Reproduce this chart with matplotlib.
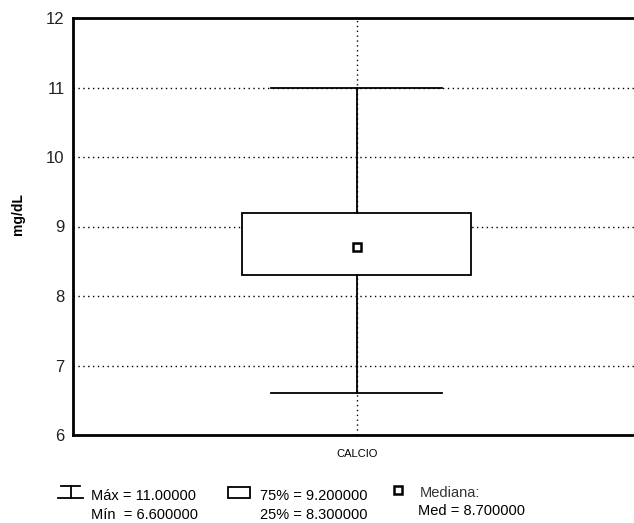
import matplotlib
matplotlib.use("Agg")
import matplotlib.pyplot as plt
from matplotlib.lines import Line2D
from matplotlib.patches import Rectangle

plt.rcParams['font.family'] = ['Liberation Sans', 'DejaVu Sans']

category = "CALCIO"
v_max = 11.0
v_min = 6.6
q75 = 9.2
q25 = 8.3
median = 8.7
y_ticks = [6, 7, 8, 9, 10, 11, 12]

fig = plt.figure(figsize=(6.34, 5.23), dpi=100)
ax = fig.add_axes([73/634, 1 - 435/523, 1 - 73/634, (435 - 18)/523])

stats = [{"label": category, "med": median, "q1": q25, "q3": q75,
          "whislo": v_min, "whishi": v_max, "mean": median}]
ax.bxp(stats, positions=[0], widths=0.408, capwidths=0.305, showmeans=True,
       showfliers=False, patch_artist=True,
       boxprops=dict(facecolor="white", edgecolor="black", linewidth=1.3),
       whiskerprops=dict(color="black", linewidth=1.3),
       capprops=dict(color="black", linewidth=1.3),
       medianprops=dict(visible=False),
       meanprops=dict(marker="s", markerfacecolor="white", markeredgecolor="black",
                      markeredgewidth=1.8, markersize=6),
       zorder=3)

ax.set_xlim(-0.506, 0.494)
ax.set_ylim(6, 12)
ax.set_yticks(y_ticks)
ax.set_yticklabels([str(t) for t in y_ticks], fontsize=12, color="#222222")
ax.set_xticks([0])
ax.set_xticklabels([category], fontsize=8)
ax.tick_params(length=0, pad=6)
ax.tick_params(axis="x", pad=10)
ax.grid(True, linestyle=(0, (1, 2.5)), color="black", linewidth=1.0, zorder=0)
ax.set_axisbelow(True)
for s in ["left", "bottom", "top"]:
    ax.spines[s].set_linewidth(2)
ax.spines["right"].set_visible(False)
ax.set_ylabel("mg/dL", fontsize=10, fontweight="bold")
ax.yaxis.set_label_coords(-0.086, 0.53)

# legend drawn in figure pixels
def fx(x):
    return x / 634

def fy(y):
    return 1 - y / 523

lw = 1.3
fig.add_artist(Line2D([fx(61), fx(80)], [fy(486), fy(486)], color="black", lw=lw))
fig.add_artist(Line2D([fx(58), fx(83)], [fy(498), fy(498)], color="black", lw=lw))
fig.add_artist(Line2D([fx(70.5), fx(70.5)], [fy(486), fy(498)], color="black", lw=lw))
fig.add_artist(Rectangle((fx(228), fy(498)), fx(22), 11/523, facecolor="white",
                         edgecolor="black", lw=lw))
fig.add_artist(Line2D([fx(398)], [fy(490)], marker="s", markersize=6,
                      markerfacecolor="white", markeredgecolor="black", markeredgewidth=1.8))

fs = 10.5
fig.text(fx(91), fy(496), f"Máx = {v_max:.5f}", fontsize=fs, va="center")
fig.text(fx(91), fy(515), f"Mín  = {v_min:.6f}", fontsize=fs, va="center")
fig.text(fx(260), fy(496), f"75% = {q75:.6f}", fontsize=fs, va="center")
fig.text(fx(260), fy(515), f"25% = {q25:.6f}", fontsize=fs, va="center")
fig.text(fx(420), fy(493), "Mediana:", fontsize=fs, va="center", color="#333333")
fig.text(fx(418), fy(511), f"Med = {median:.6f}", fontsize=fs, va="center")

fig.savefig("out.png", dpi=100)
